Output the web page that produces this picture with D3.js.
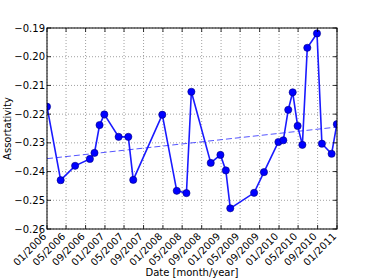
<!DOCTYPE html>
<html>
<head>
<meta charset="utf-8">
<script src="https://cdn.jsdelivr.net/npm/d3@7"></script>
<style>
  body { margin: 0; background: #fff; }
  svg { display: block; font-family: "DejaVu Sans", sans-serif; }
</style>
</head>
<body>
<div id="chart"></div>
<script>
// ===============================
// Données
// ===============================
const dates = [
  "2006-01-01", "2006-03-28", "2006-06-27", "2006-09-28", "2006-10-27", "2006-11-28",
  "2006-12-28", "2007-03-28", "2007-05-28", "2007-06-28", "2007-12-28", "2008-03-28",
  "2008-05-28", "2008-06-28", "2008-10-28", "2008-12-28", "2009-01-31", "2009-02-28",
  "2009-07-28", "2009-09-28", "2009-12-28", "2010-01-28", "2010-02-28", "2010-03-28",
  "2010-04-28", "2010-05-28", "2010-06-28", "2010-08-28", "2010-09-28", "2010-11-28",
  "2010-12-31"
];
const assortativite = [
  -0.2174, -0.2430, -0.2380, -0.2356, -0.2335, -0.2238,
  -0.2201, -0.2279, -0.2279, -0.2429, -0.2202, -0.2467,
  -0.2475, -0.2122, -0.2370, -0.2342, -0.2396, -0.2528,
  -0.2474, -0.2402, -0.2297, -0.2291, -0.2185, -0.2124,
  -0.2241, -0.2307, -0.1969, -0.1919, -0.2303, -0.2338,
  -0.2235
];
// Droite de tendance (extrémités)
const tendanceDates = ["2006-01-01", "2011-01-01"];
const tendanceValeurs = [-0.2355, -0.2245];

const yTicks = [-0.26, -0.25, -0.24, -0.23, -0.22, -0.21, -0.20, -0.19];
const xTickDates = [
  "2006-01-01", "2006-05-01", "2006-09-01", "2007-01-01", "2007-05-01", "2007-09-01",
  "2008-01-01", "2008-05-01", "2008-09-01", "2009-01-01", "2009-05-01", "2009-09-01",
  "2010-01-01", "2010-05-01", "2010-09-01", "2011-01-01"
];

// ===============================
// Mise en place
// ===============================
const largeur = 374, hauteur = 280;
const marge = { haut: 28, droite: 37, bas: 51, gauche: 47 };
const parse = d3.timeParse("%Y-%m-%d");
const fmt = d3.timeFormat("%m/%Y");

const svg = d3.select("#chart").append("svg")
  .attr("width", largeur).attr("height", hauteur);

const x = d3.scaleTime()
  .domain([parse("2006-01-01"), parse("2011-01-01")])
  .range([marge.gauche, largeur - marge.droite]);
const y = d3.scaleLinear()
  .domain([-0.26, -0.19])
  .range([hauteur - marge.bas, marge.haut]);

const points = dates.map((d, i) => ({ date: parse(d), val: assortativite[i] }));

// Grille
svg.append("g").selectAll("line").data(yTicks).join("line")
  .attr("x1", marge.gauche).attr("x2", largeur - marge.droite)
  .attr("y1", d => y(d)).attr("y2", d => y(d))
  .attr("stroke", "#888").attr("stroke-width", 0.8).attr("stroke-dasharray", "1,2");
svg.append("g").selectAll("line").data(xTickDates.map(parse)).join("line")
  .attr("x1", d => x(d)).attr("x2", d => x(d))
  .attr("y1", marge.haut).attr("y2", hauteur - marge.bas)
  .attr("stroke", "#888").attr("stroke-width", 0.8).attr("stroke-dasharray", "1,2");

// Zone de tracé (clip)
svg.append("clipPath").attr("id", "clip").append("rect")
  .attr("x", marge.gauche).attr("y", marge.haut)
  .attr("width", largeur - marge.droite - marge.gauche)
  .attr("height", hauteur - marge.bas - marge.haut);
const zone = svg.append("g").attr("clip-path", "url(#clip)");

// Tendance
zone.append("path")
  .datum(tendanceDates.map((d, i) => ({ date: parse(d), val: tendanceValeurs[i] })))
  .attr("d", d3.line().x(d => x(d.date)).y(d => y(d.val)))
  .attr("fill", "none").attr("stroke", "#5555ff").attr("stroke-width", 1)
  .attr("stroke-dasharray", "6,3");

// Série
zone.append("path").datum(points)
  .attr("d", d3.line().x(d => x(d.date)).y(d => y(d.val)))
  .attr("fill", "none").attr("stroke", "#1a1aff").attr("stroke-width", 1.6);
zone.selectAll("circle").data(points).join("circle")
  .attr("cx", d => x(d.date)).attr("cy", d => y(d.val)).attr("r", 3.6)
  .attr("fill", "#0000ff").attr("stroke", "#000080").attr("stroke-width", 0.6);

// Cadre
svg.append("rect")
  .attr("x", marge.gauche).attr("y", marge.haut)
  .attr("width", largeur - marge.droite - marge.gauche)
  .attr("height", hauteur - marge.bas - marge.haut)
  .attr("fill", "none").attr("stroke", "#000").attr("stroke-width", 1);

// Graduations intérieures
const gTicks = svg.append("g").attr("stroke", "#000").attr("stroke-width", 0.8);
yTicks.forEach(t => {
  gTicks.append("line").attr("x1", marge.gauche).attr("x2", marge.gauche + 4).attr("y1", y(t)).attr("y2", y(t));
  gTicks.append("line").attr("x1", largeur - marge.droite).attr("x2", largeur - marge.droite - 4).attr("y1", y(t)).attr("y2", y(t));
});
xTickDates.map(parse).forEach(t => {
  gTicks.append("line").attr("x1", x(t)).attr("x2", x(t)).attr("y1", hauteur - marge.bas).attr("y2", hauteur - marge.bas - 4);
  gTicks.append("line").attr("x1", x(t)).attr("x2", x(t)).attr("y1", marge.haut).attr("y2", marge.haut + 4);
});

// Étiquettes Y
svg.append("g").selectAll("text").data(yTicks).join("text")
  .attr("x", marge.gauche - 2).attr("y", d => y(d)).attr("dy", "0.36em")
  .attr("text-anchor", "end").attr("font-size", 10)
  .text(d => d3.format(".2f")(d).replace("-", "\u2212"));

// Étiquettes X (pivotées, fin du texte sous la graduation)
svg.append("g").selectAll("text").data(xTickDates.map(parse)).join("text")
  .attr("transform", d => `translate(${x(d)},${hauteur - marge.bas + 8}) rotate(-45)`)
  .attr("text-anchor", "end").attr("font-size", 10)
  .text(d => fmt(d));

// Titres d'axes
svg.append("text")
  .attr("x", (marge.gauche + largeur - marge.droite) / 2).attr("y", hauteur - 4)
  .attr("text-anchor", "middle").attr("font-size", 10)
  .text("Date [month/year]");
svg.append("text")
  .attr("transform", `translate(11,${(marge.haut + hauteur - marge.bas) / 2}) rotate(-90)`)
  .attr("text-anchor", "middle").attr("font-size", 10)
  .text("Assortativity");
</script>
</body>
</html>
